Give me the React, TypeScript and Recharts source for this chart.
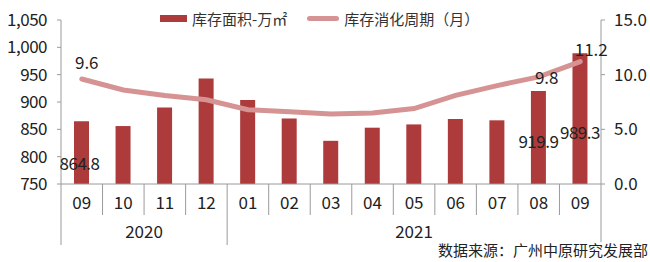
import React from 'react';
import { ComposedChart, Bar, Line, XAxis, YAxis, Legend, LabelList } from 'recharts';

const months = ['09', '10', '11', '12', '01', '02', '03', '04', '05', '06', '07', '08', '09'];
const inventory = [864.8, 856, 890, 943, 903.6, 870, 829, 853, 859, 869, 866.5, 919.9, 989.3];
const cycle = [9.6, 8.6, 8.1, 7.7, 6.8, 6.6, 6.4, 6.5, 6.9, 8.1, 9.0, 9.8, 11.2];
const years = [
  { label: '2020', start: 0, count: 4 },
  { label: '2021', start: 4, count: 9 },
];
const leftTicks = [750, 800, 850, 900, 950, 1000, 1050];
const rightTicks = [0, 5, 10, 15];
const barLabelIdx = [0, 11, 12];
const lineLabelIdx = [0, 11, 12];

const data = months.map((m, i) => ({ month: m, inventory: inventory[i], cycle: cycle[i], idx: i }));

const W = 650;
const H = 262;
const LEGEND_H = 24;
const M = { top: 20 - LEGEND_H, right: 4, left: 6, bottom: 0 };
const LEFT_W = 55;
const RIGHT_W = 45;
const X_H = 78;
const PLOT_L = M.left + LEFT_W;
const PLOT_R = W - M.right - RIGHT_W;
const STEP = (PLOT_R - PLOT_L) / months.length;
const FONT = '"Noto Sans CJK SC", "Noto Sans", sans-serif';
const BAR = '#AE3B3B';
const LINE = '#D69394';
const AXIS = '#9a9a9a';
const TXT = '#222';

const XTick = (props: any) => {
  const { x, y, payload, index } = props;
  const top = y - 8;
  const yearStart = years.find((g) => g.start === index);
  const isLast = index === months.length - 1;
  const els: any[] = [];
  const left = x - STEP / 2;
  els.push(
    <line key="l" x1={left} x2={left} y1={top} y2={yearStart ? top + 61 : top + 31} stroke={AXIS} strokeWidth={1} />
  );
  if (isLast) {
    els.push(<line key="r" x1={x + STEP / 2} x2={x + STEP / 2} y1={top} y2={top + 58} stroke={AXIS} strokeWidth={1} />);
  }
  els.push(
    <text key="t" x={x} y={top + 25} textAnchor="middle" fontSize={17} fill={TXT} fontFamily={FONT}>
      {payload.value}
    </text>
  );
  if (yearStart) {
    const cx = left + (yearStart.count * STEP) / 2;
    els.push(
      <text key="y" x={cx} y={top + 54} textAnchor="middle" fontSize={17} fill={TXT} fontFamily={FONT}>
        {yearStart.label}
      </text>
    );
  }
  return <g>{els}</g>;
};

const barOffsets: Record<number, [number, number]> = { 0: [-2, 49], 11: [0, 57], 12: [0, 86] };
const BarLabel = (props: any) => {
  const { x, y, width, value, index } = props;
  if (!barLabelIdx.includes(index)) return null;
  const [dx, dy] = barOffsets[index];
  return (
    <text x={x + width / 2 + dx} y={y + dy} textAnchor="middle" fontSize={17} fill={TXT} fontFamily={FONT} letterSpacing={-0.5}>
      {Number(value).toFixed(1)}
    </text>
  );
};

const lineOffsets: Record<number, [number, number]> = { 0: [5, -10], 11: [8, 7], 12: [11, -6] };
const LineLabel = (props: any) => {
  const { x, y, value, index } = props;
  if (!lineLabelIdx.includes(index)) return null;
  const [dx, dy] = lineOffsets[index];
  return (
    <text x={x + dx} y={y + dy} textAnchor="middle" fontSize={17} fill={TXT} fontFamily={FONT}>
      {Number(value).toFixed(1)}
    </text>
  );
};

const LegendContent = () => (
  <div style={{ display: 'flex', alignItems: 'center', fontFamily: FONT, fontSize: 15, color: '#333', height: LEGEND_H }}>
    <div style={{ width: 27, height: 7, background: BAR, marginLeft: 160, marginRight: 5 }} />
    <span>库存面积-万㎡</span>
    <div style={{ width: 32, height: 5, background: LINE, borderRadius: 3, marginLeft: 20, marginRight: 5 }} />
    <span>库存消化周期（月）</span>
  </div>
);

export default function App() {
  return (
    <div style={{ position: 'absolute', left: 0, top: 0, width: W, height: H, background: '#fff' }}>
      <ComposedChart width={W} height={H} data={data} margin={M}>
        <XAxis
          dataKey="month"
          height={X_H}
          interval={0}
          stroke={AXIS}
          tickLine={false}
          tick={<XTick />}
        />
        <YAxis
          yAxisId="l"
          width={LEFT_W}
          domain={[750, 1050]}
          ticks={leftTicks}
          interval={0}
          allowDataOverflow
          stroke={AXIS}
          tickSize={4}
          tickMargin={10}
          tick={{ fontSize: 17, fill: TXT, fontFamily: FONT, letterSpacing: -0.5 }}
          tickFormatter={(v: number) => v.toLocaleString('en-US')}
        />
        <YAxis
          yAxisId="r"
          orientation="right"
          width={RIGHT_W}
          domain={[0, 15]}
          ticks={rightTicks}
          interval={0}
          stroke={AXIS}
          tickSize={4}
          tickMargin={9}
          tick={{ fontSize: 17, fill: TXT, fontFamily: FONT, textAnchor: 'start' }}
          tickFormatter={(v: number) => v.toFixed(1)}
        />
        <Legend
          verticalAlign="top"
          align="left"
          wrapperStyle={{ top: 6, left: 0 }}
          content={<LegendContent />}
        />
        <Bar yAxisId="l" dataKey="inventory" fill={BAR} barSize={15} isAnimationActive={false}>
          <LabelList dataKey="inventory" content={<BarLabel />} />
        </Bar>
        <Line
          yAxisId="r"
          type="linear"
          dataKey="cycle"
          stroke={LINE}
          strokeWidth={5}
          strokeLinecap="round"
          dot={false}
          activeDot={false}
          isAnimationActive={false}
        >
          <LabelList dataKey="cycle" content={<LineLabel />} />
        </Line>
      </ComposedChart>
      <div
        style={{
          position: 'absolute',
          right: 2,
          top: 239,
          fontFamily: FONT,
          fontSize: 15,
          color: '#222',
          whiteSpace: 'nowrap',
        }}
      >
        数据来源：广州中原研究发展部
      </div>
    </div>
  );
}
